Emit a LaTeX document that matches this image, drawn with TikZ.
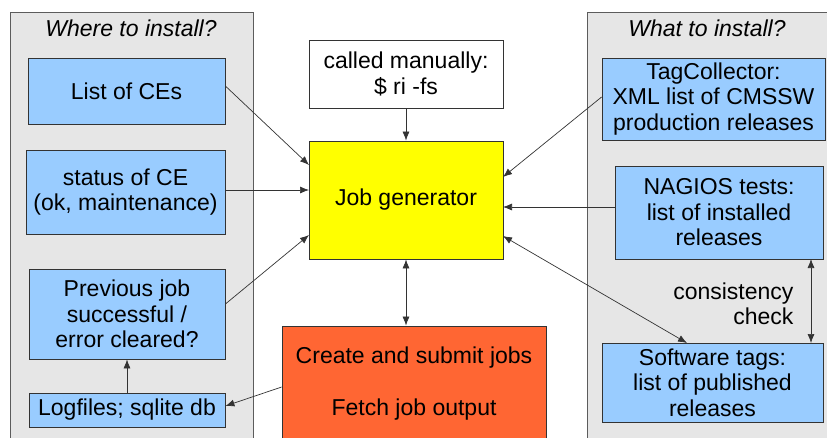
\documentclass[tikz,border=0pt]{standalone}
\usepackage{fontspec}
\setmainfont{Liberation Sans}
\usetikzlibrary{arrows.meta}
\definecolor{panelgrey}{HTML}{E6E6E6}
\definecolor{boxblue}{HTML}{99CCFF}
\definecolor{genyellow}{HTML}{FFFF00}
\definecolor{joborange}{HTML}{FF6633}
\definecolor{edgegrey}{HTML}{333333}
\tikzset{
  panel/.style={draw=edgegrey!80, fill=panelgrey, line width=1pt},
  txt/.style={font=\fontsize{23}{25.5}\selectfont},
  bx/.style={draw=edgegrey, line width=0.8pt, inner sep=0pt, align=center,
    txt, text=black},
  bluebox/.style={bx, fill=boxblue},
  arr/.style={draw=edgegrey, line width=0.7pt, -{Latex[length=9pt,width=7pt]}},
  darr/.style={draw=edgegrey, line width=0.7pt, {Latex[length=9pt,width=7pt]}-{Latex[length=9pt,width=7pt]}},
  ttl/.style={font=\fontsize{23}{25.5}\selectfont\itshape}
}
\begin{document}
\begin{tikzpicture}[x=1pt,y=-1pt]
\useasboundingbox (0,0) rectangle (827,437);
\begin{scope}
\clip (0,0) rectangle (827,437);
% panels
\draw[panel] (10,12) rectangle (253,450);
\draw[panel] (587,12) rectangle (850,450);
\node[ttl] (t1) at (131,28) {Where to install?};
\node[ttl] (t2) at (707,28) {What to install?};
% left boxes
\node[bluebox, minimum width=197pt, minimum height=66pt] (ces) at (126.5,91) {List of CEs};
\node[bluebox, minimum width=199pt, minimum height=84pt] (status) at (125.5,192) {status of CE\\(ok, maintenance)};
\node[bluebox, minimum width=196pt, minimum height=90pt] (prev) at (127,314) {Previous job\\successful /\\error cleared?};
\node[bluebox, minimum width=196pt, minimum height=34pt] (logs) at (127,410) {Logfiles; sqlite db};
% centre
\node[bx, fill=white, minimum width=194pt, minimum height=68pt] (called) at (406,74) {called manually:\\\$ ri -fs};
\node[bx, fill=genyellow, minimum width=194pt, minimum height=118pt] (gen) at (406,200) {Job generator};
\node[bx, fill=joborange, minimum width=264pt, minimum height=124pt] (create) at (414,388) {};
\node[txt] (c1) at (414,358) {Create and submit jobs};
\node[txt] (c2) at (414,410) {Fetch job output};
% right boxes
\node[bluebox, minimum width=223pt, minimum height=82pt] (tag) at (713.5,99) {TagCollector:\\XML list of CMSSW\\production releases};
\node[bluebox, minimum width=208pt, minimum height=93pt] (nag) at (719,212.5) {NAGIOS tests:\\list of installed\\releases};
\node[bluebox, minimum width=221pt, minimum height=79pt] (soft) at (712.5,382.5) {Software tags:\\list of published\\releases};
\node[txt, align=right, anchor=east] (cons) at (797,304) {consistency\\check};
% connectors
\coordinate (g1) at (309,165);
\coordinate (g2) at (309,190);
\coordinate (g3) at (309,235);
\coordinate (g4) at (503,177);
\coordinate (g5) at (503,207);
\coordinate (g6) at (503,236);
\draw[arr] (ces.east |- 0,86) -- (g1);
\draw[arr] (status.east |- 0,190) -- (g2);
\draw[arr] (prev.east |- 0,304) -- (g3);
\draw[arr] (called.south) -- (gen.north);
\draw[darr] (gen.south) -- (gen.south |- create.north);
\draw[arr] (create.west |- 0,387) -- (logs.east |- 0,406);
\draw[arr] (logs.north) -- (prev.south);
\draw[arr] (tag.west |- 0,97) -- (g4);
\draw[arr] (nag.west |- 0,207) -- (g5);
\draw[darr] (g6) -- (687,343);
\draw[darr] (811,259) -- (811,343);
\end{scope}
\end{tikzpicture}
\end{document}
